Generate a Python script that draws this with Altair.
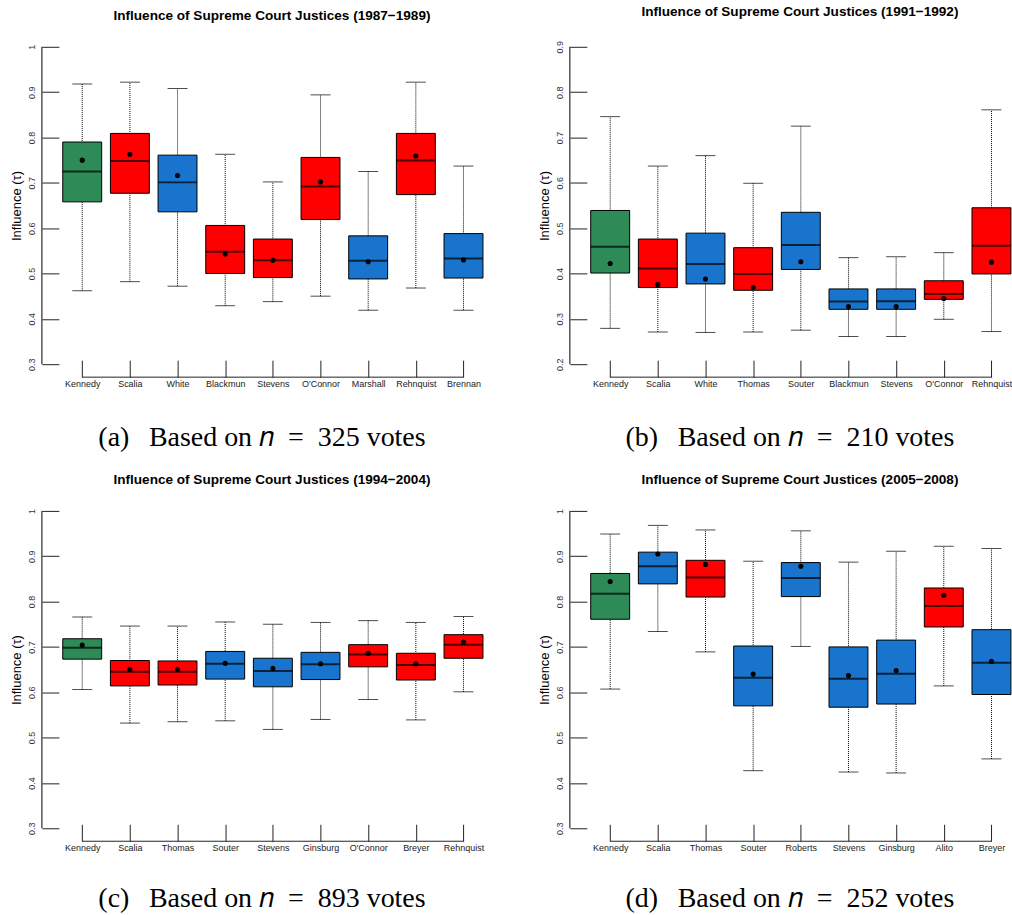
import altair as alt
import pandas as pd

GREEN, RED, BLUE = "#2E8B57", "#FF0000", "#1874CD"

# ---------- Panel (a) 1987-1989 ----------
names_a = ["Kennedy", "Scalia", "White", "Blackmun", "Stevens", "O'Connor", "Marshall", "Rehnquist", "Brennan"]
grp_a = ["G", "R", "B", "R", "R", "R", "B", "R", "B"]
lo_a = [0.462, 0.482, 0.472, 0.429, 0.438, 0.450, 0.419, 0.468, 0.419]
q1_a = [0.658, 0.677, 0.636, 0.500, 0.491, 0.619, 0.488, 0.674, 0.490]
med_a = [0.725, 0.748, 0.701, 0.548, 0.529, 0.692, 0.528, 0.749, 0.533]
q3_a = [0.790, 0.809, 0.761, 0.606, 0.576, 0.756, 0.583, 0.809, 0.588]
hi_a = [0.918, 0.922, 0.908, 0.763, 0.702, 0.894, 0.725, 0.922, 0.737]
mean_a = [0.750, 0.763, 0.716, 0.543, 0.529, 0.702, 0.526, 0.759, 0.530]

# ---------- Panel (b) 1991-1992 ----------
names_b = ["Kennedy", "Scalia", "White", "Thomas", "Souter", "Blackmun", "Stevens", "O'Connor", "Rehnquist"]
grp_b = ["G", "R", "B", "R", "B", "B", "B", "R", "R"]
lo_b = [0.279, 0.271, 0.270, 0.271, 0.275, 0.261, 0.261, 0.299, 0.272]
q1_b = [0.401, 0.369, 0.377, 0.363, 0.409, 0.321, 0.321, 0.343, 0.399]
med_b = [0.459, 0.411, 0.421, 0.399, 0.463, 0.338, 0.339, 0.355, 0.461]
q3_b = [0.539, 0.476, 0.489, 0.457, 0.535, 0.366, 0.366, 0.384, 0.545]
hi_b = [0.746, 0.637, 0.660, 0.599, 0.725, 0.435, 0.437, 0.446, 0.761]
mean_b = [0.422, 0.376, 0.388, 0.369, 0.426, 0.327, 0.327, 0.345, 0.425]

# ---------- Panel (c) 1994-2004 ----------
names_c = ["Kennedy", "Scalia", "Thomas", "Souter", "Stevens", "Ginsburg", "O'Connor", "Breyer", "Rehnquist"]
grp_c = ["G", "R", "R", "B", "B", "B", "R", "R", "R"]
lo_c = [0.606, 0.532, 0.535, 0.537, 0.518, 0.540, 0.584, 0.539, 0.601]
q1_c = [0.673, 0.614, 0.616, 0.629, 0.612, 0.628, 0.656, 0.627, 0.675]
med_c = [0.698, 0.645, 0.645, 0.663, 0.647, 0.662, 0.683, 0.660, 0.705]
q3_c = [0.718, 0.670, 0.669, 0.690, 0.675, 0.688, 0.705, 0.686, 0.727]
hi_c = [0.766, 0.746, 0.746, 0.755, 0.750, 0.754, 0.758, 0.754, 0.767]
mean_c = [0.704, 0.650, 0.650, 0.664, 0.653, 0.663, 0.686, 0.663, 0.711]

# ---------- Panel (d) 2005-2008 ----------
names_d = ["Kennedy", "Scalia", "Thomas", "Souter", "Roberts", "Stevens", "Ginsburg", "Alito", "Breyer"]
grp_d = ["G", "B", "R", "B", "B", "B", "B", "R", "B"]
lo_d = [0.607, 0.734, 0.689, 0.427, 0.701, 0.424, 0.422, 0.614, 0.453]
q1_d = [0.761, 0.839, 0.810, 0.570, 0.811, 0.567, 0.574, 0.744, 0.595]
med_d = [0.817, 0.878, 0.853, 0.632, 0.852, 0.630, 0.641, 0.790, 0.665]
q3_d = [0.862, 0.909, 0.891, 0.702, 0.886, 0.700, 0.715, 0.830, 0.738]
hi_d = [0.949, 0.968, 0.958, 0.889, 0.956, 0.887, 0.911, 0.922, 0.917]
mean_d = [0.844, 0.905, 0.882, 0.640, 0.878, 0.637, 0.648, 0.814, 0.668]

titles = [
    "Influence of Supreme Court Justices (1987\u22121989)",
    "Influence of Supreme Court Justices (1991\u22121992)",
    "Influence of Supreme Court Justices (1994\u22122004)",
    "Influence of Supreme Court Justices (2005\u22122008)",
]
captions = [
    "(a)\u2002\u2009Based on \U0001D45B\u2002=\u2002325 votes",
    "(b)\u2002\u2009Based on \U0001D45B\u2002=\u2002210 votes",
    "(c)\u2002\u2009Based on \U0001D45B\u2002=\u2002893 votes",
    "(d)\u2002\u2009Based on \U0001D45B\u2002=\u2002252 votes",
]
yranges = [(0.3, 1.0), (0.2, 0.9), (0.3, 1.0), (0.3, 1.0)]

W, H = 421, 318
SANS = "Liberation Sans"


def panel(names, grp, lo, q1, med, q3, hi, mean, title, caption, yr, cap_pad):
    df = pd.DataFrame(dict(justice=names, grp=grp, lo=lo, q1=q1, med=med,
                           q3=q3, hi=hi, mean=mean))
    xs = alt.Scale(type="point", domain=names, padding=0.408, align=0.6)
    ys = alt.Scale(domain=list(yr), nice=False, zero=False)
    yvals = [round(yr[0] + 0.1 * i, 1) for i in range(8)]
    xaxis = alt.Axis(
        title=caption, titleFont="Liberation Serif", titleFontSize=28,
        titleFontWeight="normal", titleColor="black", titlePadding=cap_pad,
        titleX=203, titleAlign="center",
        labelAngle=0, labelFont=SANS, labelFontSize=9, labelColor="#222",
        labelPadding=2, tickSize=17, tickColor="#222", domain=False, offset=-4,
        grid=False,
    )
    yaxis = alt.Axis(
        values=yvals, format="~g", title="Influence (\u03c4)", titleFont=SANS,
        titleFontSize=13, titleFontWeight="normal", titleColor="black",
        titlePadding=4, labelAngle=270, labelAlign="center",
        labelBaseline="bottom", labelPadding=5, labelFont=SANS,
        labelFontSize=9, labelColor="#333", tickSize=17, tickColor="#222",
        domain=False, grid=False,
    )
    x = alt.X("justice:N", scale=xs, axis=xaxis)
    base = alt.Chart(df)
    whisk = base.mark_rule(color="black", strokeWidth=1, strokeDash=[1, 1]).encode(
        x=x, y=alt.Y("lo:Q", scale=ys, axis=yaxis), y2="hi:Q")
    cap_lo = base.mark_tick(color="black", size=20, thickness=1).encode(x=x, y="lo:Q")
    cap_hi = base.mark_tick(color="black", size=20, thickness=1).encode(x=x, y="hi:Q")
    box = base.mark_bar(size=39, stroke="black", strokeWidth=1, opacity=1).encode(
        x=x, y="q1:Q", y2="q3:Q",
        color=alt.Color("grp:N", scale=alt.Scale(domain=["G", "R", "B"],
                                                 range=[GREEN, RED, BLUE]),
                        legend=None))
    medl = base.mark_tick(color="black", size=39, thickness=2).encode(x=x, y="med:Q")
    meanp = base.mark_circle(color="black", size=26, opacity=1).encode(x=x, y="mean:Q")
    ydom = alt.Chart(pd.DataFrame({"a": [yr[0]], "b": [yr[1]]})).mark_rule(
        color="black", strokeWidth=1).encode(x=alt.value(-17), y="a:Q", y2="b:Q")
    xdom = alt.Chart(pd.DataFrame({"justice": [names[0]], "end": [names[-1]]})).mark_rule(
        color="#222", strokeWidth=1).encode(x=x, x2="end", y=alt.value(H + 13))
    return alt.layer(whisk, cap_lo, cap_hi, box, medl, meanp, ydom, xdom).properties(
        width=W, height=H,
        title=alt.TitleParams(title, font=SANS, fontSize=13.6, fontWeight="bold",
                              color="black", frame="group", anchor="middle",
                              offset=22, dx=3),
    )


pa = panel(names_a, grp_a, lo_a, q1_a, med_a, q3_a, hi_a, mean_a, titles[0], captions[0], yranges[0], 35)
pb = panel(names_b, grp_b, lo_b, q1_b, med_b, q3_b, hi_b, mean_b, titles[1], captions[1], yranges[1], 35)
pc = panel(names_c, grp_c, lo_c, q1_c, med_c, q3_c, hi_c, mean_c, titles[2], captions[2], yranges[2], 32)
pd_ = panel(names_d, grp_d, lo_d, q1_d, med_d, q3_d, hi_d, mean_d, titles[3], captions[3], yranges[3], 32)

chart = alt.vconcat(
    alt.hconcat(pa, pb, spacing=55),
    alt.hconcat(pc, pd_, spacing=55),
    spacing=21,
).properties(
    padding={"left": 11, "top": 4, "right": 0, "bottom": 0},
    background="white",
).configure_view(stroke=None)

chart.save("out.html", embed_options={"renderer": "svg", "actions": False})
